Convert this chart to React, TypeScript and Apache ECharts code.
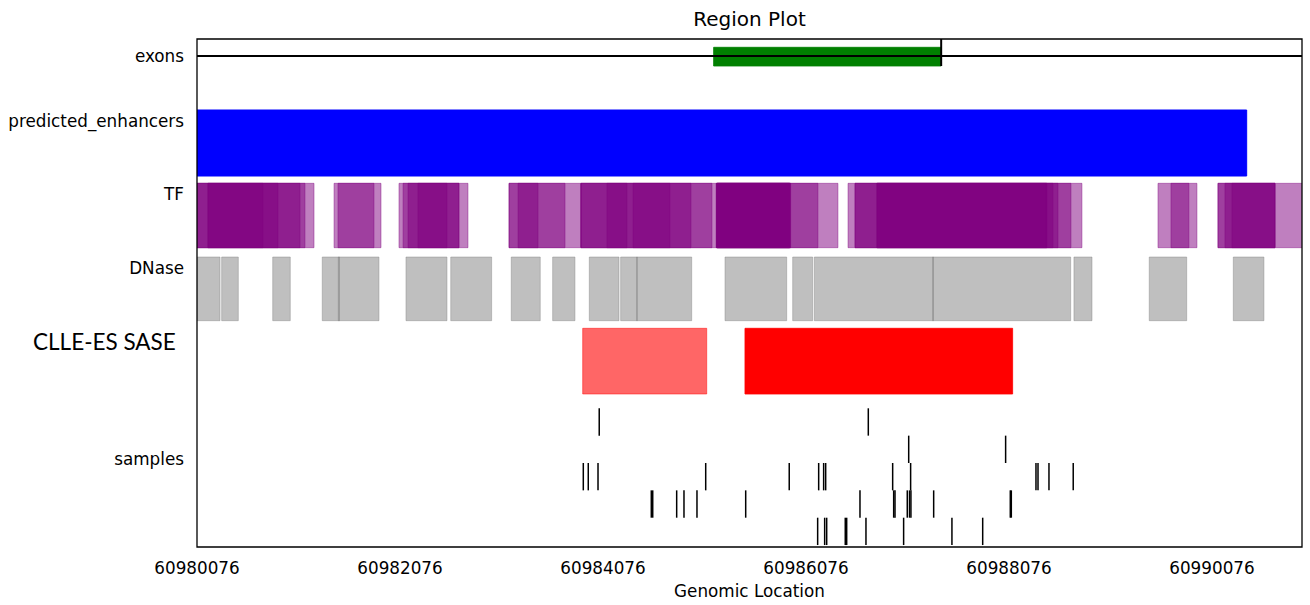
import React, { useEffect, useRef } from "react";
import * as echarts from "echarts";

// ---------- data ----------
const X_MIN = 60980076;
const X_MAX = 60990963;
const xTickValues = [60980076, 60982076, 60984076, 60986076, 60988076, 60990076];

const trackNames = ["exons", "predicted_enhancers", "TF", "DNase", "samples"];
const trackLabelPos = [17, 82, 155, 229, 420];

const geneLine = [[60979000, 60992000]];
const exons = [[60985166, 60987408]];
const exonMarkers = [60987408];

const enhancers = [[60980000, 60990418]];

const tfSites = [
  [60980000, 60981229], [60980000, 60981140], [60980000, 60981091], [60980184, 60980874], [60980184, 60980726],
  [60981426, 60981820], [60981465, 60981889],
  [60982066, 60982746], [60982106, 60982657], [60982155, 60982657], [60982253, 60982539],
  [60983150, 60983859], [60983150, 60983702], [60983239, 60983436],
  [60983859, 60985199], [60983859, 60985150], [60983859, 60984943],
  [60984115, 60984312], [60984372, 60984736],
  [60985190, 60985925], [60985199, 60985918], [60985205, 60985910], [60985199, 60985918], [60985195, 60985921],
  [60985199, 60986391], [60985199, 60986194],
  [60986490, 60988795], [60986559, 60988687], [60986559, 60988559],
  [60986775, 60988509], [60986775, 60988450], [60986780, 60988445],
  [60989544, 60989849], [60989672, 60989928],
  [60990135, 60991100], [60990135, 60990697], [60990204, 60990697], [60990273, 60990697],
];

const dnaseSites = [
  [60980079, 60980303], [60980319, 60980483], [60980822, 60980995], [60981310, 60981480],
  [60981468, 60981869], [60982135, 60982539], [60982576, 60982979], [60983172, 60983458],
  [60983580, 60983800], [60983941, 60984234], [60984250, 60984414], [60984408, 60984950],
  [60985278, 60985886], [60985945, 60986142], [60986158, 60987332], [60987324, 60988684],
  [60988716, 60988894], [60989458, 60989827], [60990286, 60990588],
];

// [start, end, alpha]
const saseRegions = [
  [60983876, 60985098, 0.6],
  [60985475, 60988112, 1.0],
];

// [position, sample row]
const sampleMutations = [
  [60984039, 0], [60986690, 0],
  [60987088, 1], [60988043, 1],
  [60983882, 2], [60983931, 2], [60984027, 2], [60985088, 2], [60985911, 2], [60986201, 2],
  [60986250, 2], [60986270, 2], [60986930, 2], [60987107, 2], [60988342, 2], [60988362, 2],
  [60988470, 2], [60988709, 2],
  [60984552, 3], [60984566, 3], [60984802, 3], [60984874, 3], [60985002, 3], [60985482, 3],
  [60986608, 3], [60986940, 3], [60986953, 3], [60987074, 3], [60987096, 3], [60987110, 3],
  [60987334, 3], [60988089, 3], [60988099, 3],
  [60986191, 4], [60986260, 4], [60986280, 4], [60986463, 4], [60986477, 4], [60986667, 4],
  [60987038, 4], [60987514, 4], [60987817, 4],
];

// ---------- layout (y in plot units, 0 = top of plot) ----------
const GRID = { left: 197, top: 39, width: 1105, height: 508 };
const Y_MAX = 508;
const LAYOUT = {
  exonLine: 17, exonTop: 8.3, exonBottom: 27, markerTop: 0,
  enhTop: 71, enhBottom: 137,
  tfTop: 144.3, tfBottom: 208.7,
  dnaseTop: 218, dnaseBottom: 281.7,
  saseTop: 289.3, saseBottom: 355,
  sampleTop: 369.3, sampleRowH: 27.35,
};

const FONT = "DejaVu Sans";

function rectSeries(name: string, data: any[], top: number, bottom: number, styleFn: (api: any) => any, z = 2) {
  return {
    type: "custom",
    name,
    clip: true,
    z,
    data,
    encode: { x: [0, 1] },
    renderItem: (_params: any, api: any) => {
      const p0 = api.coord([api.value(0), top]);
      const p1 = api.coord([api.value(1), bottom]);
      return {
        type: "rect",
        shape: { x: p0[0], y: p0[1], width: p1[0] - p0[0], height: p1[1] - p0[1] },
        style: styleFn(api),
      };
    },
  };
}

export default function App() {
  const ref = useRef<HTMLDivElement>(null);
  useEffect(() => {
    if (!ref.current) return;
    const chart = echarts.init(ref.current, null, { renderer: "svg" });
    const labelMap: Record<number, string> = {};
    trackLabelPos.forEach((p, i) => (labelMap[p] = trackNames[i]));

    const option: any = {
      animation: false,
      backgroundColor: "#ffffff",
      grid: { left: GRID.left, top: GRID.top, width: GRID.width, height: GRID.height, containLabel: false },
      xAxis: {
        type: "value",
        min: X_MIN,
        max: X_MAX,
        name: "Genomic Location",
        nameLocation: "middle",
        nameGap: 35,
        nameTextStyle: { fontFamily: FONT, fontSize: 16.8, color: "#000" },
        axisLine: { show: false },
        axisTick: { show: false },
        splitLine: { show: false },
        axisLabel: {
          customValues: xTickValues,
          formatter: (v: number) => String(Math.round(v)),
          fontFamily: FONT,
          fontSize: 16.8,
          color: "#000",
          margin: 12,
        },
      },
      yAxis: {
        type: "value",
        inverse: true,
        min: 0,
        max: Y_MAX,
        axisLine: { show: false },
        axisTick: { show: false },
        splitLine: { show: false },
        axisLabel: {
          customValues: trackLabelPos,
          formatter: (v: number) => labelMap[v] ?? "",
          fontFamily: FONT,
          fontSize: 16.8,
          color: "#000",
          margin: 13,
        },
      },
      graphic: [
        {
          type: "text",
          x: 749.5,
          y: 19,
          style: { text: "Region Plot", fontFamily: FONT, fontSize: 20, fill: "#000", align: "center", verticalAlign: "middle" },
        },
        {
          type: "text",
          x: 33,
          y: 341,
          style: { text: "CLLE-ES SASE", fontFamily: "Lato", fontSize: 22.5, fill: "#000", align: "left", verticalAlign: "middle" },
        },
        {
          type: "rect",
          z: 100,
          silent: true,
          shape: { x: GRID.left, y: GRID.top, width: GRID.width, height: GRID.height },
          style: { fill: "none", stroke: "#000", lineWidth: 1.3 },
        },
      ],
      series: [
        rectSeries("predicted_enhancers", enhancers, LAYOUT.enhTop, LAYOUT.enhBottom, () => ({
          fill: "#0000ff", stroke: "#0000ff", lineWidth: 1,
        })),
        rectSeries("TF", tfSites, LAYOUT.tfTop, LAYOUT.tfBottom, () => ({
          fill: "#800080", stroke: "#800080", lineWidth: 0.8, opacity: 0.5,
        })),
        rectSeries("DNase", dnaseSites, LAYOUT.dnaseTop, LAYOUT.dnaseBottom, () => ({
          fill: "#808080", stroke: "#808080", lineWidth: 0.8, opacity: 0.5,
        })),
        rectSeries("CLLE-ES SASE", saseRegions, LAYOUT.saseTop, LAYOUT.saseBottom, (api: any) => ({
          fill: "#ff0000", stroke: "#ff0000", lineWidth: 0.8, opacity: api.value(2),
        })),
        rectSeries("exons", exons, LAYOUT.exonTop, LAYOUT.exonBottom, () => ({
          fill: "#008000", stroke: "#008000", lineWidth: 0.8,
        })),
        {
          type: "custom",
          name: "gene",
          clip: true,
          z: 5,
          data: geneLine,
          encode: { x: [0, 1] },
          renderItem: (_p: any, api: any) => {
            const a = api.coord([api.value(0), LAYOUT.exonLine]);
            const b = api.coord([api.value(1), LAYOUT.exonLine]);
            return { type: "line", shape: { x1: a[0], y1: a[1], x2: b[0], y2: b[1] }, style: { stroke: "#000", lineWidth: 2 } };
          },
        },
        {
          type: "custom",
          name: "exonMarker",
          clip: true,
          z: 6,
          data: exonMarkers.map((v) => [v]),
          encode: { x: 0 },
          renderItem: (_p: any, api: any) => {
            const a = api.coord([api.value(0), LAYOUT.markerTop]);
            const b = api.coord([api.value(0), LAYOUT.exonBottom]);
            return { type: "line", shape: { x1: a[0], y1: a[1], x2: b[0], y2: b[1] }, style: { stroke: "#000", lineWidth: 2 } };
          },
        },
        {
          type: "custom",
          name: "samples",
          clip: true,
          z: 5,
          data: sampleMutations,
          encode: { x: 0 },
          renderItem: (_p: any, api: any) => {
            const row = api.value(1);
            const a = api.coord([api.value(0), LAYOUT.sampleTop + row * LAYOUT.sampleRowH]);
            const b = api.coord([api.value(0), LAYOUT.sampleTop + (row + 1) * LAYOUT.sampleRowH]);
            return { type: "line", shape: { x1: a[0], y1: a[1], x2: b[0], y2: b[1] }, style: { stroke: "#000", lineWidth: 1.5 } };
          },
        },
      ],
    };
    chart.setOption(option);
    return () => chart.dispose();
  }, []);

  return (
    <div
      ref={ref}
      style={{ position: "fixed", left: 0, top: 0, width: 1310, height: 605, background: "#fff" }}
    />
  );
}
